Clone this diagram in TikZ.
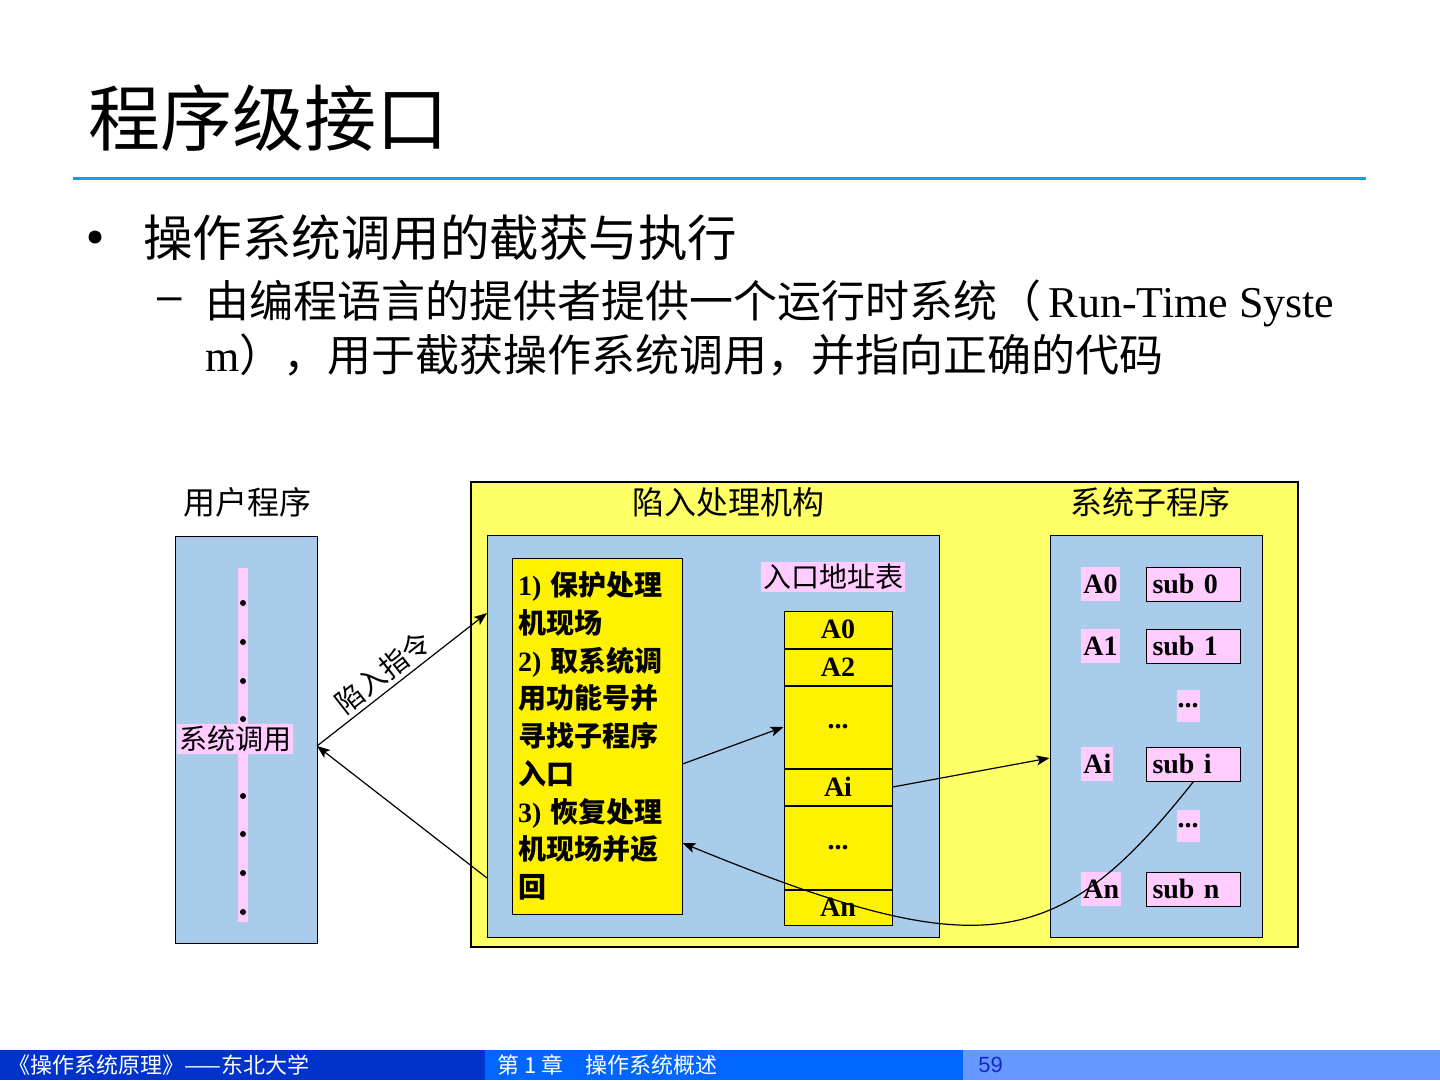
\documentclass[tikz,border=0pt]{standalone}
\usepackage{fontspec}
\setmainfont{Liberation Serif}
\setsansfont{Liberation Sans}
\newfontfamily\cjk{Noto Sans CJK SC}
\usetikzlibrary{arrows.meta,positioning}

\definecolor{figblue}{RGB}{168,204,234}
\definecolor{figyellow}{RGB}{255,255,102}
\definecolor{figpink}{RGB}{255,204,255}
\definecolor{figline}{RGB}{30,155,230}
\definecolor{footdark}{RGB}{0,51,204}
\definecolor{footmid}{RGB}{0,102,255}
\definecolor{footlight}{RGB}{102,153,255}
\definecolor{footnum}{RGB}{20,40,200}

\newcommand{\fsz}[1]{\fontsize{#1bp}{#1bp}\selectfont}
\newcommand{\zh}[1]{{\cjk #1}}

\begin{document}
\begin{tikzpicture}[x=0.5bp,y=-0.5bp,
  txt/.style={anchor=west,inner sep=0pt},
  boxline/.style={draw=black,line width=0.5bp},
  pinklabel/.style={fill=figpink,inner sep=1bp,font=\cjk\fsz{14}},
  tabcell/.style={boxline,fill=yellow,minimum width=54bp,inner sep=0pt,font=\bfseries\fsz{14}},
  subbox/.style={boxline,fill=figpink,text width=41bp,align=left,inner sep=3bp,minimum height=17bp,font=\bfseries\fsz{14}},
  addrlabel/.style={fill=figpink,inner sep=1bp,minimum height=17bp,anchor=west,font=\bfseries\fsz{14}},
  dotbox/.style={fill=figpink,inner sep=0.5bp,minimum width=9.5bp,minimum height=16bp,font=\bfseries\fsz{14}},
  callarrow/.style={-{Stealth[length=6.5bp,width=5bp,inset=1.5bp]},line width=0.6bp}]
  \useasboundingbox (0,0) rectangle (1440,1080);
  \fill[white] (0,0) rectangle (1440,1080);

  % title and text
  \node[txt,font=\cjk\fsz{36}] (title) at (88,118) {程序级接口};
  \draw[figline,line width=1.5bp] (73,178) -- (1366,178);
  \fill (95,237) circle (6.5);
  \node[txt,font=\cjk\fsz{24.75}] (point) at (143,238) {操作系统调用的截获与执行};
  \node[font=\sffamily\fsz{22}] (dash) at (170,304) {–};
  \node[txt,font=\fsz{22}] (line1) at (205,303) {\zh{由编程语言的提供者提供一个运行时系统（}\,Run-Time Syste};
  \node[txt,font=\fsz{22}] (line2) at (205,355) {m\zh{），用于截获操作系统调用，并指向正确的代码}};

  % user program
  \node[font=\cjk\fsz{16}] (userlbl) at (247,502) {用户程序};
  \node[boxline,fill=figblue,minimum width=71bp,minimum height=203.5bp,inner sep=0pt] (user) at (246,739.5) {};
  \fill[figpink] (238,568) rectangle (248,922);
  \foreach \y in {603,642,681,719,796,834,873,912}
    \fill (243,\y) circle (3);
  \node[pinklabel] (call) at (235,739) {系统调用};

  % trap handler and system subroutines
  \node[draw=black,line width=1bp,fill=figyellow,minimum width=413.5bp,minimum height=232.5bp,inner sep=0pt] (outer) at (884.5,714.5) {};
  \node[font=\cjk\fsz{16}] (traplbl) at (728,502) {陷入处理机构};
  \node[font=\cjk\fsz{16}] (syslbl) at (1150,502) {系统子程序};
  \node[boxline,fill=figblue,minimum width=226bp,minimum height=201bp,inner sep=0pt] (trapin) at (713,736) {};
  \node[boxline,fill=figblue,minimum width=106bp,minimum height=201bp,inner sep=0pt] (sysin) at (1156,736) {};

  \node[boxline,fill=yellow,text width=79bp,inner sep=3bp,minimum height=178bp,align=left,
        font=\bfseries\fontsize{14bp}{18.875bp}\selectfont] (steps) at (597,736)
    {1) \zh{保护处理}\\\zh{机现场}\\2) \zh{取系统调}\\\zh{用功能号并}\\\zh{寻找子程序}\\\zh{入口}\\3) \zh{恢复处理}\\\zh{机现场并返}\\\zh{回}};

  \node[pinklabel] (tablbl) at (833,577) {入口地址表};
  \node[tabcell,minimum height=18.5bp] (ta0) at (838,629.5) {A0};
  \node[tabcell,minimum height=18bp,below=0pt of ta0] (ta2) {A2};
  \node[tabcell,minimum height=41bp,below=0pt of ta2] (tdot1) {...};
  \node[tabcell,minimum height=18bp,below=0pt of tdot1] (tai) {Ai};
  \node[tabcell,minimum height=41.5bp,below=0pt of tai] (tdot2) {...};
  \node[tabcell,minimum height=17.5bp,below=0pt of tdot2] (tan) {An};

  \node[addrlabel] (a0) at (1081,584) {A0};
  \node[subbox] (sub0) at (1193.5,584) {sub 0};
  \node[addrlabel] (a1) at (1081,646) {A1};
  \node[subbox] (sub1) at (1193.5,646) {sub 1};
  \node[dotbox] (sdot1) at (1188,706) {...};
  \node[addrlabel] (ai) at (1081,764) {Ai};
  \node[subbox] (subi) at (1193.5,764) {sub i};
  \node[dotbox] (sdot2) at (1188,826) {...};
  \node[addrlabel] (an) at (1081,889) {An};
  \node[subbox] (subn) at (1193.5,889) {sub n};

  % connectors
  \coordinate (callpt) at (317,746);
  \coordinate (trapentry) at (487,613);
  \coordinate (trapexit) at (487,878);
  \draw[callarrow] (callpt) -- node[sloped,above,pos=0.45,inner sep=2bp,font=\cjk\fsz{14}] (traplabel) {陷入指令} (trapentry);
  \draw[callarrow] (trapexit) -- (callpt);
  \draw[callarrow] ([yshift=-14bp]steps.east) -- (tdot1.west);
  \draw[callarrow] (tai.east) -- ([yshift=-11bp]sysin.west);
  \draw[callarrow] (subi.south) .. controls +(-136,172) and +(300,123) .. ([yshift=-53.5bp]steps.east);

  % footer
  \fill[footdark] (0,1050) rectangle (485,1080);
  \fill[footmid] (485,1050) rectangle (963,1080);
  \fill[footlight] (963,1050) rectangle (1440,1080);
  \node[txt,text=white,font=\cjk\fsz{11}] (foot1) at (8,1065) {《操作系统原理》——东北大学};
  \node[txt,text=white,font=\cjk\fsz{11}] (foot2) at (497,1065) {第 1 章　操作系统概述};
  \node[txt,text=footnum,font=\sffamily\fsz{11}] (foot3) at (978,1065) {59};
\end{tikzpicture}
\end{document}
